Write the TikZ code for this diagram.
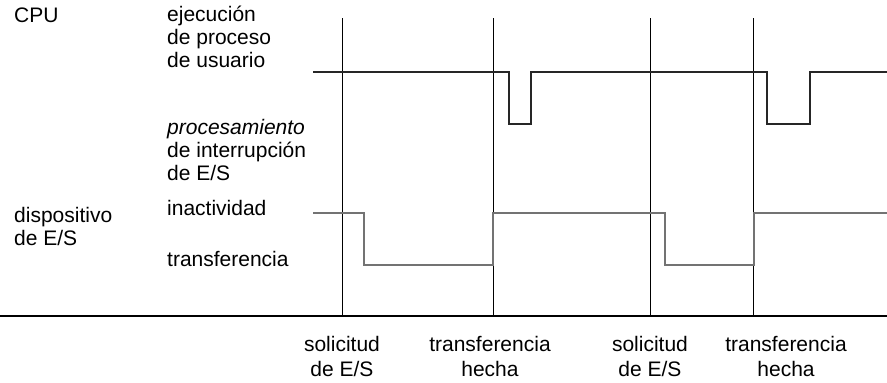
\documentclass[tikz,border=0pt]{standalone}
\usepackage{fontspec}
\setmainfont{Liberation Sans}
\begin{document}
\begin{tikzpicture}[x=1pt,y=-1pt,
  lbl/.style={font=\fontsize{21}{23}\selectfont, inner sep=0pt, anchor=base west, align=left},
  blbl/.style={font=\fontsize{21}{25}\selectfont, inner sep=0pt, anchor=base, align=center},
  cpuwave/.style={line width=2.4pt, black!85},
  devwave/.style={line width=2pt, black!55},
  vline/.style={line width=0.9pt, black},
  axisline/.style={line width=2pt, black}]
\useasboundingbox (0,0) rectangle (887,383);

% left labels (multi-line nodes are placed by the baseline of their last line)
\node[lbl] (cpu) at (14,22) {CPU};
\node[lbl] (ejec) at (167,67) {ejecución\\de proceso\\de usuario};
\node[lbl] (proc) at (167,180) {\itshape procesamiento\\de interrupción\\de E/S};
\node[lbl] (disp) at (14,245) {dispositivo\\de E/S};
\node[lbl] (inact) at (167,215) {inactividad};
\node[lbl] (transf) at (167,266) {transferencia};

% time markers
\foreach \n/\x in {a/342,b/493,c/650,d/753}{
  \coordinate (\n top) at (\x,18);
  \coordinate (\n bot) at (\x,316);
  \draw[vline] (\n top) -- (\n bot);
}

% axis
\coordinate (axl) at (0,316);
\coordinate (axr) at (887,316);
\draw[axisline] (axl) -- (axr);

% CPU waveform
\draw[cpuwave] (313,72) -- (509,72) -- (509,124) -- (531,124) -- (531,72)
  -- (767,72) -- (767,124) -- (810,124) -- (810,72) -- (887,72);

% device waveform
\draw[devwave] (313,213) -- (364,213) -- (364,265) -- (493,265) -- (493,213)
  -- (665,213) -- (665,265) -- (754,265) -- (754,213) -- (887,213);

% bottom labels
\node[blbl] (s1) at (342,376) {solicitud\\de E/S};
\node[blbl] (t1) at (490,376) {transferencia\\hecha};
\node[blbl] (s2) at (650,376) {solicitud\\de E/S};
\node[blbl] (t2) at (786,376) {transferencia\\hecha};
\end{tikzpicture}
\end{document}
